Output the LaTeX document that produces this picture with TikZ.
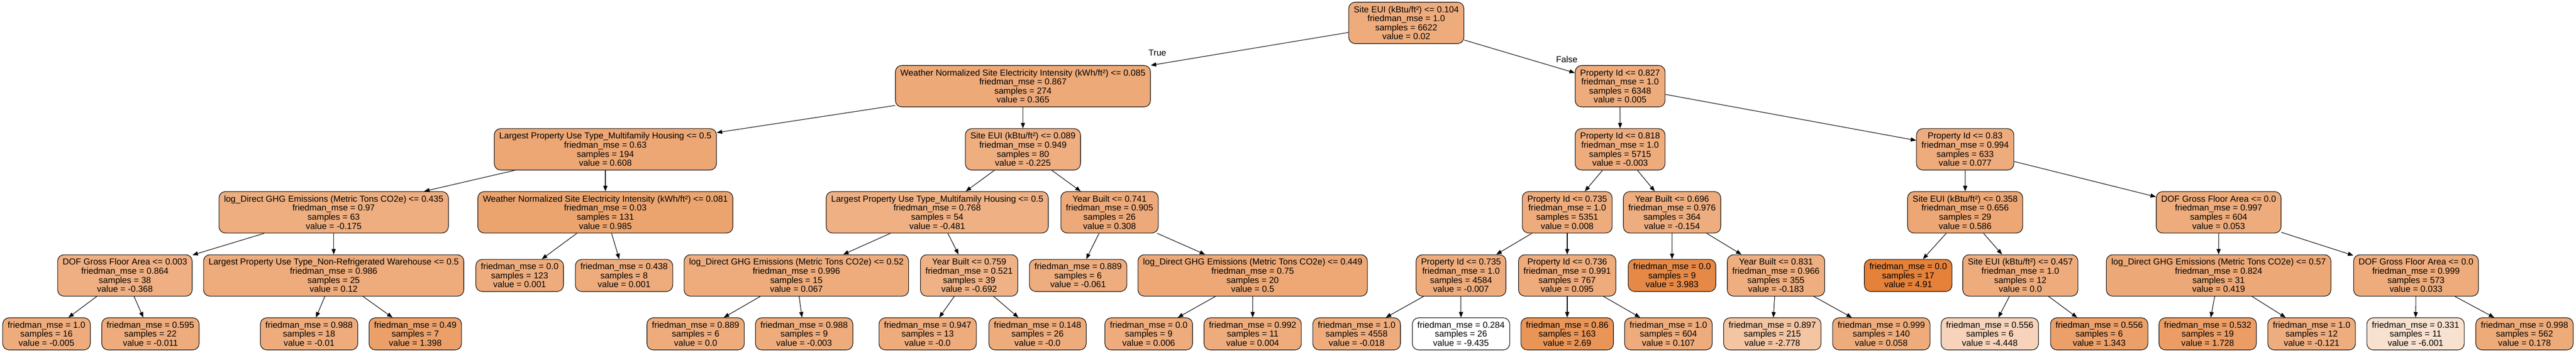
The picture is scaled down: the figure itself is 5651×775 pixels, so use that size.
\documentclass[tikz,border=0pt]{standalone}
\usepackage{fontspec}
\setmainfont{Liberation Sans}
\usetikzlibrary{arrows.meta}

\definecolor{ori}{RGB}{229,129,57}
\tikzset{
  splitbox/.style={draw=black, line width=1.2pt, rounded corners=14pt, align=center,
    inner xsep=11pt, inner ysep=0pt, minimum height=91pt,
    font=\fontsize{19.2pt}{19.9pt}\selectfont},
  leafbox/.style={splitbox, minimum height=70.5pt},
  branch/.style={line width=1.2pt, -{Triangle[length=12pt,width=9pt]}},
  lbl/.style={inner sep=0pt, font=\fontsize{19.2pt}{19.9pt}\selectfont}
}

\begin{document}
\begin{tikzpicture}[x=1pt,y=-1pt]
\useasboundingbox (0,0) rectangle (5651,775);

% depth 0
\node[splitbox, fill=ori!65.9] (root) at (3085,50.3) {Site EUI (kBtu/ft²) <= 0.104\\friedman\_mse = 1.0\\samples = 6622\\value = 0.02};

% depth 1
\node[splitbox, fill=ori!68.3] (wnsei1) at (2244,189.3) {Weather Normalized Site Electricity Intensity (kWh/ft²) <= 0.085\\friedman\_mse = 0.867\\samples = 274\\value = 0.365};
\node[splitbox, fill=ori!65.8] (pid1) at (3554,189.3) {Property Id <= 0.827\\friedman\_mse = 1.0\\samples = 6348\\value = 0.005};

% depth 2
\node[splitbox, fill=ori!70.0] (lput1) at (1328,328) {Largest Property Use Type\_Multifamily Housing <= 0.5\\friedman\_mse = 0.63\\samples = 194\\value = 0.608};
\node[splitbox, fill=ori!64.2] (seui1) at (2244,328) {Site EUI (kBtu/ft²) <= 0.089\\friedman\_mse = 0.949\\samples = 80\\value = -0.225};
\node[splitbox, fill=ori!65.8] (pid2) at (3554,328) {Property Id <= 0.818\\friedman\_mse = 1.0\\samples = 5715\\value = -0.003};
\node[splitbox, fill=ori!66.3] (pid3) at (4311,328) {Property Id <= 0.83\\friedman\_mse = 0.994\\samples = 633\\value = 0.077};

% depth 3
\node[splitbox, fill=ori!64.6] (ghg1) at (732,466.3) {log\_Direct GHG Emissions (Metric Tons CO2e) <= 0.435\\friedman\_mse = 0.97\\samples = 63\\value = -0.175};
\node[splitbox, fill=ori!72.6] (wnsei2) at (1328,466.3) {Weather Normalized Site Electricity Intensity (kWh/ft²) <= 0.081\\friedman\_mse = 0.03\\samples = 131\\value = 0.985};
\node[splitbox, fill=ori!62.4] (lput2) at (2056,466.3) {Largest Property Use Type\_Multifamily Housing <= 0.5\\friedman\_mse = 0.768\\samples = 54\\value = -0.481};
\node[splitbox, fill=ori!67.9] (yb1) at (2434,466.3) {Year Built <= 0.741\\friedman\_mse = 0.905\\samples = 26\\value = 0.308};
\node[splitbox, fill=ori!65.8] (pid4) at (3438,466.3) {Property Id <= 0.735\\friedman\_mse = 1.0\\samples = 5351\\value = 0.008};
\node[splitbox, fill=ori!64.7] (yb2) at (3668,466.3) {Year Built <= 0.696\\friedman\_mse = 0.976\\samples = 364\\value = -0.154};
\node[splitbox, fill=ori!69.9] (seui2) at (4311,466.3) {Site EUI (kBtu/ft²) <= 0.358\\friedman\_mse = 0.656\\samples = 29\\value = 0.586};
\node[splitbox, fill=ori!66.1] (dof1) at (4867,466.3) {DOF Gross Floor Area <= 0.0\\friedman\_mse = 0.997\\samples = 604\\value = 0.053};

% depth 4
\node[splitbox, fill=ori!63.2] (dof2) at (274,605) {DOF Gross Floor Area <= 0.003\\friedman\_mse = 0.864\\samples = 38\\value = -0.368};
\node[splitbox, fill=ori!66.6] (lput3) at (732,605) {Largest Property Use Type\_Non-Refrigerated Warehouse <= 0.5\\friedman\_mse = 0.986\\samples = 25\\value = 0.12};
\node[leafbox, fill=ori!65.8] (wnsei2L) at (1140,605) {friedman\_mse = 0.0\\samples = 123\\value = 0.001};
\node[leafbox, fill=ori!65.8] (wnsei2R) at (1369,605) {friedman\_mse = 0.438\\samples = 8\\value = 0.001};
\node[splitbox, fill=ori!66.2] (ghg2) at (1747,605) {log\_Direct GHG Emissions (Metric Tons CO2e) <= 0.52\\friedman\_mse = 0.996\\samples = 15\\value = 0.067};
\node[splitbox, fill=ori!60.9] (yb3) at (2126,605) {Year Built <= 0.759\\friedman\_mse = 0.521\\samples = 39\\value = -0.692};
\node[leafbox, fill=ori!65.3] (yb1L) at (2365,605) {friedman\_mse = 0.889\\samples = 6\\value = -0.061};
\node[splitbox, fill=ori!69.3] (ghg3) at (2748,605) {log\_Direct GHG Emissions (Metric Tons CO2e) <= 0.449\\friedman\_mse = 0.75\\samples = 20\\value = 0.5};
\node[splitbox, fill=ori!65.7] (pid5) at (3205,605) {Property Id <= 0.735\\friedman\_mse = 1.0\\samples = 4584\\value = -0.007};
\node[splitbox, fill=ori!66.4] (pid6) at (3438,605) {Property Id <= 0.736\\friedman\_mse = 0.991\\samples = 767\\value = 0.095};
\node[leafbox, fill=ori!93.5] (yb2L) at (3668,605) {friedman\_mse = 0.0\\samples = 9\\value = 3.983};
\node[splitbox, fill=ori!64.5] (yb4) at (3896,605) {Year Built <= 0.831\\friedman\_mse = 0.966\\samples = 355\\value = -0.183};
\node[leafbox, fill=ori] (seui2L) at (4186,605) {friedman\_mse = 0.0\\samples = 17\\value = 4.91};
\node[splitbox, fill=ori!65.8] (seui3) at (4432,605) {Site EUI (kBtu/ft²) <= 0.457\\friedman\_mse = 1.0\\samples = 12\\value = 0.0};
\node[splitbox, fill=ori!68.7] (ghg4) at (4867,605) {log\_Direct GHG Emissions (Metric Tons CO2e) <= 0.57\\friedman\_mse = 0.824\\samples = 31\\value = 0.419};
\node[splitbox, fill=ori!66.0] (dof3) at (5300,605) {DOF Gross Floor Area <= 0.0\\friedman\_mse = 0.999\\samples = 573\\value = 0.033};

% depth 5 (leaves)
\node[leafbox, fill=ori!65.7] (dof2L) at (102,733.3) {friedman\_mse = 1.0\\samples = 16\\value = -0.005};
\node[leafbox, fill=ori!65.7] (dof2R) at (330,733.3) {friedman\_mse = 0.595\\samples = 22\\value = -0.011};
\node[leafbox, fill=ori!65.7] (lput3L) at (678,733.3) {friedman\_mse = 0.988\\samples = 18\\value = -0.01};
\node[leafbox, fill=ori!75.5] (lput3R) at (911,733.3) {friedman\_mse = 0.49\\samples = 7\\value = 1.398};
\node[leafbox, fill=ori!65.8] (ghg2L) at (1526,733.3) {friedman\_mse = 0.889\\samples = 6\\value = 0.0};
\node[leafbox, fill=ori!65.8] (ghg2R) at (1764,733.3) {friedman\_mse = 0.988\\samples = 9\\value = -0.003};
\node[leafbox, fill=ori!65.8] (yb3L) at (2035,733.3) {friedman\_mse = 0.947\\samples = 13\\value = -0.0};
\node[leafbox, fill=ori!65.8] (yb3R) at (2276,733.3) {friedman\_mse = 0.148\\samples = 26\\value = -0.0};
\node[leafbox, fill=ori!65.8] (ghg3L) at (2520,733.3) {friedman\_mse = 0.0\\samples = 9\\value = 0.006};
\node[leafbox, fill=ori!65.8] (ghg3R) at (2748,733.3) {friedman\_mse = 0.992\\samples = 11\\value = 0.004};
\node[leafbox, fill=ori!65.6] (pid5L) at (2976,733.3) {friedman\_mse = 1.0\\samples = 4558\\value = -0.018};
\node[leafbox, fill=white] (pid5R) at (3205,733.3) {friedman\_mse = 0.284\\samples = 26\\value = -9.435};
\node[leafbox, fill=ori!84.5] (pid6L) at (3438,733.3) {friedman\_mse = 0.86\\samples = 163\\value = 2.69};
\node[leafbox, fill=ori!66.5] (pid6R) at (3660,733.3) {friedman\_mse = 1.0\\samples = 604\\value = 0.107};
\node[leafbox, fill=ori!46.4] (yb4L) at (3888,733.3) {friedman\_mse = 0.897\\samples = 215\\value = -2.778};
\node[leafbox, fill=ori!66.2] (yb4R) at (4127,733.3) {friedman\_mse = 0.999\\samples = 140\\value = 0.058};
\node[leafbox, fill=ori!34.8] (seui3L) at (4365,733.3) {friedman\_mse = 0.556\\samples = 6\\value = -4.448};
\node[leafbox, fill=ori!75.1] (seui3R) at (4605,733.3) {friedman\_mse = 0.556\\samples = 6\\value = 1.343};
\node[leafbox, fill=ori!77.8] (ghg4L) at (4843,733.3) {friedman\_mse = 0.532\\samples = 19\\value = 1.728};
\node[leafbox, fill=ori!64.9] (ghg4R) at (5071,733.3) {friedman\_mse = 1.0\\samples = 12\\value = -0.121};
\node[leafbox, fill=ori!23.9] (dof3L) at (5299,733.3) {friedman\_mse = 0.331\\samples = 11\\value = -6.001};
\node[leafbox, fill=ori!67.0] (dof3R) at (5538,733.3) {friedman\_mse = 0.998\\samples = 562\\value = 0.178};

% branches
\draw[branch] (root) -- (wnsei1);
\draw[branch] (root) -- (pid1);
\node[lbl] (truelbl) at (2539,115.7) {True};
\node[lbl] (falselbl) at (3437,130) {False};
\draw[branch] (wnsei1) -- (lput1);
\draw[branch] (wnsei1) -- (seui1);
\draw[branch] (pid1) -- (pid2);
\draw[branch] (pid1) -- (pid3);
\draw[branch] (lput1) -- (ghg1);
\draw[branch] (lput1) -- (wnsei2);
\draw[branch] (seui1) -- (lput2);
\draw[branch] (seui1) -- (yb1);
\draw[branch] (pid2) -- (pid4);
\draw[branch] (pid2) -- (yb2);
\draw[branch] (pid3) -- (seui2);
\draw[branch] (pid3) -- (dof1);
\draw[branch] (ghg1) -- (dof2);
\draw[branch] (ghg1) -- (lput3);
\draw[branch] (wnsei2) -- (wnsei2L);
\draw[branch] (wnsei2) -- (wnsei2R);
\draw[branch] (lput2) -- (ghg2);
\draw[branch] (lput2) -- (yb3);
\draw[branch] (yb1) -- (yb1L);
\draw[branch] (yb1) -- (ghg3);
\draw[branch] (pid4) -- (pid5);
\draw[branch] (pid4) -- (pid6);
\draw[branch] (yb2) -- (yb2L);
\draw[branch] (yb2) -- (yb4);
\draw[branch] (seui2) -- (seui2L);
\draw[branch] (seui2) -- (seui3);
\draw[branch] (dof1) -- (ghg4);
\draw[branch] (dof1) -- (dof3);
\draw[branch] (dof2) -- (dof2L);
\draw[branch] (dof2) -- (dof2R);
\draw[branch] (lput3) -- (lput3L);
\draw[branch] (lput3) -- (lput3R);
\draw[branch] (ghg2) -- (ghg2L);
\draw[branch] (ghg2) -- (ghg2R);
\draw[branch] (yb3) -- (yb3L);
\draw[branch] (yb3) -- (yb3R);
\draw[branch] (ghg3) -- (ghg3L);
\draw[branch] (ghg3) -- (ghg3R);
\draw[branch] (pid5) -- (pid5L);
\draw[branch] (pid5) -- (pid5R);
\draw[branch] (pid6) -- (pid6L);
\draw[branch] (pid6) -- (pid6R);
\draw[branch] (yb4) -- (yb4L);
\draw[branch] (yb4) -- (yb4R);
\draw[branch] (seui3) -- (seui3L);
\draw[branch] (seui3) -- (seui3R);
\draw[branch] (ghg4) -- (ghg4L);
\draw[branch] (ghg4) -- (ghg4R);
\draw[branch] (dof3) -- (dof3L);
\draw[branch] (dof3) -- (dof3R);
\end{tikzpicture}
\end{document}
